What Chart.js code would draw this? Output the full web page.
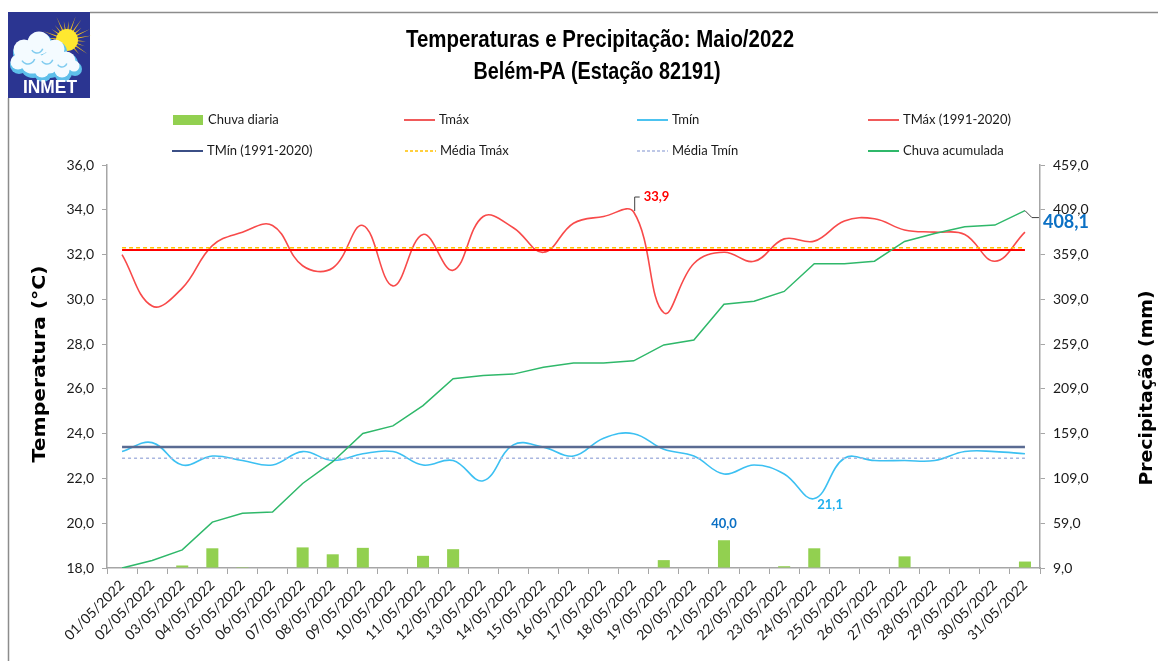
<!DOCTYPE html>
<html>
<head>
<meta charset="utf-8">
<script src="https://cdn.jsdelivr.net/npm/chart.js@4.4.1/dist/chart.umd.min.js"></script>
<style>
  html, body { margin: 0; padding: 0; background: #fff; }
  #wrap { width: 1158px; height: 661px; }
</style>
</head>
<body>
<div id="wrap"><canvas id="chart" width="1158" height="661"></canvas></div>
<script>
const days = [
  "01/05/2022", "02/05/2022", "03/05/2022", "04/05/2022", "05/05/2022", "06/05/2022",
  "07/05/2022", "08/05/2022", "09/05/2022", "10/05/2022", "11/05/2022", "12/05/2022",
  "13/05/2022", "14/05/2022", "15/05/2022", "16/05/2022", "17/05/2022", "18/05/2022",
  "19/05/2022", "20/05/2022", "21/05/2022", "22/05/2022", "23/05/2022", "24/05/2022",
  "25/05/2022", "26/05/2022", "27/05/2022", "28/05/2022", "29/05/2022", "30/05/2022",
  "31/05/2022"
];
const chuvaDiaria = [
  8.9, 8.5, 11.8, 31.0, 10.0, 1.2, 32.0, 24.3, 31.5, 8.5,
  22.6, 30.0, 3.6, 1.6, 7.6, 4.9, 0.0, 2.3, 17.8, 5.5,
  40.0, 3.2, 11.0, 31.0, 0.0, 2.8, 22.0, 8.8, 7.6, 1.9, 16.2
];
const chuvaAcumulada = [
  8.9, 17.4, 29.2, 60.2, 70.2, 71.4, 103.4, 127.7, 159.2, 167.7,
  190.3, 220.3, 223.9, 225.5, 233.1, 238.0, 238.0, 240.3, 258.1, 263.6,
  303.6, 306.8, 317.8, 348.8, 348.8, 351.6, 373.6, 382.4, 390.0, 391.9, 408.1
];
const tmax = [
  32.0, 29.7, 30.5, 32.4, 33.0, 33.3, 31.5, 31.4, 33.3, 30.6,
  32.9, 31.3, 33.7, 33.2, 32.1, 33.4, 33.7, 33.9, 29.4, 31.6,
  32.1, 31.7, 32.7, 32.6, 33.5, 33.6, 33.1, 33.0, 32.9, 31.7, 33.0
];
const tmin = [
  23.2, 23.6, 22.6, 23.0, 22.8, 22.6, 23.2, 22.8, 23.1, 23.2,
  22.6, 22.8, 21.9, 23.5, 23.4, 23.0, 23.8, 24.0, 23.3, 23.0,
  22.2, 22.6, 22.2, 21.1, 22.9, 22.8, 22.8, 22.8, 23.2, 23.2, 23.1
];
const tmaxNormal = 32.2;   // TMáx (1991-2020)
const tminNormal = 23.4;   // TMín (1991-2020)
const mediaTmax = 32.3;
const mediaTmin = 22.9;
const tempTicks = [18, 20, 22, 24, 26, 28, 30, 32, 34, 36];
const chuvaTicks = [9, 59, 109, 159, 209, 259, 309, 359, 409, 459];

const fmt = v => v.toFixed(1).replace('.', ',');
const flat = v => days.map(() => v);

const LABEL_FONT = 'Lato, "Open Sans", sans-serif';
const NARROW = '"Liberation Sans Narrow", "Liberation Sans", Arial, sans-serif';

// draws text squeezed/stretched to a target width
function fitText(ctx, text, x, y, width, font, rot) {
  ctx.save();
  ctx.font = font;
  const w = ctx.measureText(text).width;
  ctx.translate(x, y);
  if (rot) ctx.rotate(rot);
  ctx.scale(width / w, 1);
  ctx.textAlign = 'center';
  ctx.textBaseline = 'middle';
  ctx.fillText(text, 0, 0);
  ctx.restore();
}

function drawLogo(ctx) {
  ctx.save();
  ctx.fillStyle = '#2b3591';
  ctx.fillRect(8, 12, 82, 86);
  // sun
  ctx.translate(67, 40);
  ctx.fillStyle = '#f6c21b';
  for (let a = -3.3; a <= 1.0; a += 0.26) {
    const len = 19 + (Math.round(a * 10) % 2 === 0 ? 6 : 0);
    ctx.beginPath();
    ctx.moveTo(Math.cos(a - 0.07) * 9, Math.sin(a - 0.07) * 9);
    ctx.lineTo(Math.cos(a) * len, Math.sin(a) * len);
    ctx.lineTo(Math.cos(a + 0.07) * 9, Math.sin(a + 0.07) * 9);
    ctx.fill();
  }
  ctx.fillStyle = '#ffe830';
  ctx.beginPath(); ctx.arc(0, 0, 11, 0, Math.PI * 2); ctx.fill();
  ctx.restore();
  // cloud
  const puffs = [[24, 50, 12], [39, 43, 13], [55, 49, 11], [18, 62, 9], [32, 62, 13], [49, 63, 12], [66, 61, 11], [42, 70, 9], [62, 70, 9], [74, 66, 7]];
  ctx.save();
  ctx.fillStyle = '#5ebfea';
  puffs.forEach(p => { ctx.beginPath(); ctx.arc(p[0] + 1, p[1] + 3, p[2], 0, Math.PI * 2); ctx.fill(); });
  ctx.fillStyle = '#f4fbff';
  puffs.forEach(p => { ctx.beginPath(); ctx.arc(p[0], p[1], p[2] - 1.5, 0, Math.PI * 2); ctx.fill(); });
  ctx.strokeStyle = '#7fcbef';
  ctx.lineWidth = 1.5;
  [[28, 57, 7], [47, 58, 6], [37, 47, 6], [62, 62, 5]].forEach(p => { ctx.beginPath(); ctx.arc(p[0], p[1], p[2], 0.3, 2.6); ctx.stroke(); });
  ctx.restore();
  ctx.fillStyle = '#ffffff';
  fitText(ctx, 'INMET', 50, 88, 54, 'bold 19px ' + NARROW);
}

const legendItems = [
  { text: 'Chuva diaria', x: 173, y: 120, kind: 'rect', color: '#92d050' },
  { text: 'Tmáx', x: 404, y: 120, kind: 'line', color: '#f05a5a' },
  { text: 'Tmín', x: 637, y: 120, kind: 'line', color: '#4cc3f0' },
  { text: 'TMáx (1991-2020)', x: 868, y: 120, kind: 'line', color: '#f05a5a' },
  { text: 'TMín (1991-2020)', x: 172, y: 151, kind: 'line', color: '#3b4f86' },
  { text: 'Média Tmáx', x: 405, y: 151, kind: 'dash', color: '#ffc000' },
  { text: 'Média Tmín', x: 637, y: 151, kind: 'dash', color: '#a9b6e0' },
  { text: 'Chuva acumulada', x: 868, y: 151, kind: 'line', color: '#2fb86a' }
];

const decor = {
  id: 'decor',
  beforeDraw(chart) {
    const ctx = chart.ctx;
    ctx.save();
    ctx.fillStyle = '#fff';
    ctx.fillRect(0, 0, chart.width, chart.height);
    // frame
    ctx.strokeStyle = '#8c8c8c';
    ctx.lineWidth = 1.5;
    ctx.beginPath();
    ctx.moveTo(90, 12.5); ctx.lineTo(1158, 12.5);
    ctx.moveTo(8.5, 98); ctx.lineTo(8.5, 661);
    ctx.stroke();
    drawLogo(ctx);
    // title
    ctx.fillStyle = '#000';
    fitText(ctx, 'Temperaturas e Precipitação: Maio/2022', 600, 40, 388, 'bold 24px ' + NARROW);
    fitText(ctx, 'Belém-PA (Estação 82191)', 597, 72, 247, 'bold 24px ' + NARROW);
    // axis titles
    fitText(ctx, 'Temperatura (°C)', 40, 364, 197, 'bold 18px "DejaVu Sans", Verdana, sans-serif', -Math.PI / 2);
    fitText(ctx, 'Precipitação (mm)', 1147, 388, 195, 'bold 18px "DejaVu Sans", Verdana, sans-serif', -Math.PI / 2);
    // legend
    ctx.font = '13px ' + LABEL_FONT;
    ctx.textBaseline = 'middle';
    ctx.textAlign = 'left';
    legendItems.forEach(it => {
      if (it.kind === 'rect') {
        ctx.fillStyle = it.color;
        ctx.fillRect(it.x, it.y - 5, 30, 10);
      } else {
        ctx.strokeStyle = it.color;
        ctx.lineWidth = it.kind === 'dash' ? 1.5 : 2;
        ctx.setLineDash(it.kind === 'dash' ? [3, 2] : []);
        ctx.beginPath();
        ctx.moveTo(it.x, it.y); ctx.lineTo(it.x + 31, it.y);
        ctx.stroke();
        ctx.setLineDash([]);
      }
      ctx.fillStyle = '#1a1a1a';
      ctx.fillText(it.text, it.x + 35, it.y);
    });
    ctx.restore();
  },
  afterDatasetsDraw(chart) {
    const ctx = chart.ctx;
    const ptMax = chart.getDatasetMeta(1).data[17];
    const ptMin = chart.getDatasetMeta(2).data[23];
    const bar = chart.getDatasetMeta(0).data[20];
    const ptAcc = chart.getDatasetMeta(7).data[30];
    ctx.save();
    ctx.strokeStyle = '#404040';
    ctx.lineWidth = 1;
    ctx.beginPath();
    ctx.moveTo(ptMax.x + 1, ptMax.y - 1); ctx.lineTo(ptMax.x + 1, ptMax.y - 15); ctx.lineTo(ptMax.x + 6, ptMax.y - 15);
    ctx.moveTo(ptAcc.x, ptAcc.y); ctx.lineTo(ptAcc.x + 7, ptAcc.y + 7); ctx.lineTo(ptAcc.x + 14, ptAcc.y + 7);
    ctx.stroke();
    ctx.textBaseline = 'middle';
    ctx.textAlign = 'left';
    ctx.font = 'bold 13px ' + LABEL_FONT;
    ctx.fillStyle = '#ff0000';
    ctx.fillText(fmt(tmax[17]), ptMax.x + 10, ptMax.y - 15);
    ctx.fillStyle = '#1fb0ee';
    ctx.fillText(fmt(tmin[23]), ptMin.x + 3, ptMin.y + 6);
    ctx.fillStyle = '#0b70c4';
    ctx.textAlign = 'center';
    ctx.fillText(fmt(chuvaDiaria[20]), bar.x, bar.y - 16);
    ctx.textAlign = 'left';
    ctx.font = 'bold 18px ' + LABEL_FONT;
    ctx.fillText(fmt(chuvaAcumulada[30]), ptAcc.x + 18, ptAcc.y + 12);
    ctx.restore();
  }
};

const lineBase = { type: 'line', pointRadius: 0, fill: false };

new Chart(document.getElementById('chart'), {
  type: 'bar',
  data: {
    labels: days,
    datasets: [
      { label: 'Chuva diaria', data: chuvaDiaria, yAxisID: 'y2', backgroundColor: '#92d050',
        base: 9, barPercentage: 0.4, categoryPercentage: 1, order: 9 },
      { ...lineBase, label: 'Tmáx', data: tmax, yAxisID: 'y', borderColor: '#f84a4a', borderWidth: 1.6, tension: 0.4, order: 3 },
      { ...lineBase, label: 'Tmín', data: tmin, yAxisID: 'y', borderColor: '#3cc0f2', borderWidth: 1.6, tension: 0.4, order: 3 },
      { ...lineBase, label: 'TMáx (1991-2020)', data: flat(tmaxNormal), yAxisID: 'y', borderColor: '#ff0000', borderWidth: 2, order: 2 },
      { ...lineBase, label: 'TMín (1991-2020)', data: flat(tminNormal), yAxisID: 'y', borderColor: '#5a6b92', borderWidth: 2.5, order: 2 },
      { ...lineBase, label: 'Média Tmáx', data: flat(mediaTmax), yAxisID: 'y', borderColor: '#ffc000', borderWidth: 1.5, borderDash: [4, 3], order: 2 },
      { ...lineBase, label: 'Média Tmín', data: flat(mediaTmin), yAxisID: 'y', borderColor: '#a9b6e0', borderWidth: 1.5, borderDash: [3, 3], order: 2 },
      { ...lineBase, label: 'Chuva acumulada', data: chuvaAcumulada, yAxisID: 'y2', borderColor: '#2fb86a', borderWidth: 1.5, tension: 0, order: 1 }
    ]
  },
  options: {
    responsive: false,
    animation: false,
    layout: { padding: { top: 165, left: 0, right: 0, bottom: 0 } },
    plugins: { legend: { display: false }, tooltip: { enabled: false }, title: { display: false } },
    scales: {
      x: {
        offset: true,
        grid: { offset: true, drawOnChartArea: false, drawTicks: true, tickLength: 6, color: '#a6a6a6' },
        border: { color: '#a6a6a6', width: 1.5 },
        ticks: { autoSkip: false, minRotation: 45, maxRotation: 45, padding: 3, color: '#1a1a1a',
                 font: { family: LABEL_FONT, size: 14 } },
        afterFit: s => { s.height = 661 - 568; }
      },
      y: {
        position: 'left', min: 18, max: 36,
        grid: { drawOnChartArea: false, drawTicks: true, tickLength: 5, color: '#a6a6a6' },
        border: { color: '#a6a6a6', width: 1.5 },
        ticks: { padding: 8, color: '#1a1a1a', font: { family: LABEL_FONT, size: 14 }, callback: v => fmt(v) },
        afterBuildTicks: s => { s.ticks = tempTicks.map(v => ({ value: v })); },
        afterFit: s => { s.width = 107; }
      },
      y2: {
        position: 'right', min: 9, max: 459,
        grid: { drawOnChartArea: false, drawTicks: true, tickLength: 5, color: '#a6a6a6' },
        border: { color: '#a6a6a6', width: 1.5 },
        ticks: { padding: 8, color: '#1a1a1a', font: { family: LABEL_FONT, size: 14 }, callback: v => fmt(v) },
        afterBuildTicks: s => { s.ticks = chuvaTicks.map(v => ({ value: v })); },
        afterFit: s => { s.width = 1158 - 1040; }
      }
    }
  },
  plugins: [decor]
});
</script>
</body>
</html>
